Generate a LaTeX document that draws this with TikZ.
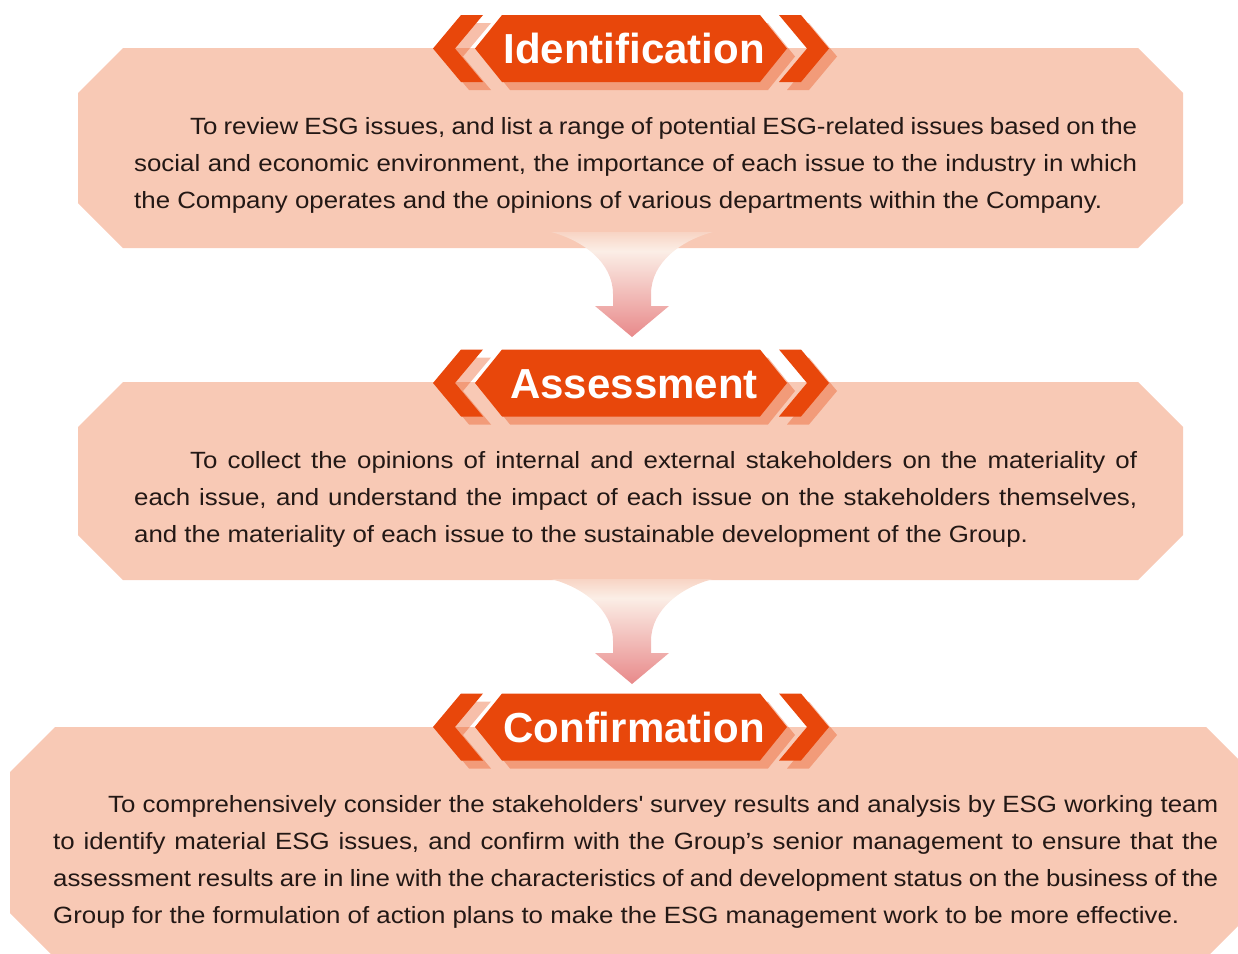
\documentclass[tikz,border=0pt]{standalone}
\usepackage{fontspec}
\setmainfont{Liberation Sans}
\newfontfamily\stagefont[FakeStretch=1.1]{Liberation Sans}
\usetikzlibrary{positioning}
\definecolor{esgorange}{HTML}{E8470B}
\definecolor{esgpanel}{HTML}{F8C9B5}
\definecolor{esgink}{HTML}{231815}
\definecolor{funneltop}{HTML}{FBEEE6}
\definecolor{funnelrim}{HTML}{F8D4C4}
\definecolor{funnelbot}{HTML}{E8898A}

% pale at the neck, pink towards the tip
\pgfdeclareverticalshading{funnelfade}{100bp}{color(0bp)=(funnelbot); color(25bp)=(funnelbot);
    color(66bp)=(funneltop); color(75bp)=(funnelrim); color(100bp)=(funnelrim)}

% tag in the middle plus the two chevrons either side
\newcommand{\tagoutline}{
    (-156,0) -- (-129,-33.5) -- (129,-33.5) -- (156,0) -- (129,33.5) -- (-129,33.5) -- cycle
    (-198,0) -- (-170,-33.5) -- (-148,-33.5) -- (-176,0) -- (-148,33.5) -- (-170,33.5) -- cycle
    (198,0) -- (170,-33.5) -- (148,-33.5) -- (176,0) -- (148,33.5) -- (170,33.5) -- cycle}

\begin{document}
\begin{tikzpicture}[
    x=1pt, y=-1pt,
    panel/.style={fill=esgpanel},
    stagetext/.style={inner sep=0pt, anchor=north west, align=justify,
        text=esgink, font=\stagefont\fontsize{23.5}{37.2}\selectfont},
    badgetext/.style={inner sep=0pt, anchor=base, text=white,
        font=\bfseries\fontsize{42}{42}\selectfont},
    badge/.pic={
        \fill[esgorange, opacity=0.35, shift={(8,8)}] \tagoutline;
        \fill[esgorange] \tagoutline;
        \node[badgetext] (-title) at (3,15) {#1};
    },
    funnel/.pic={
        \shade[shading=funnelfade]
            (-81,-105) .. controls (-50,-97) and (-19,-75) .. (-19,-43)
            -- (-19,-31) -- (-37,-31) -- (0,0) -- (37,-31) -- (19,-31) -- (19,-43)
            .. controls (19,-75) and (50,-97) .. (81,-105) -- cycle;
    },
]
    \useasboundingbox (0,0) rectangle (1238,953);
    \clip (0,0) rectangle (1238,953);

    % the three stage panels
    \fill[panel] (123,48) -- (1138,48) -- (1183,93) -- (1183,203)
        -- (1138,248) -- (123,248) -- (78,203) -- (78,93) -- cycle;
    \fill[panel] (123,382) -- (1138,382) -- (1183,427) -- (1183,535)
        -- (1138,580) -- (123,580) -- (78,535) -- (78,427) -- cycle;
    \fill[panel] (55,727) -- (1206,727) -- (1251,772) -- (1251,913)
        -- (1206,958) -- (55,958) -- (10,913) -- (10,772) -- cycle;

    \pic (down1) at (632,337) {funnel};
    \pic (down2) at (632,684) {funnel};

    \pic (ident)  at (631,48.5) {badge=Identification};
    \pic (assess) at (631,383)  {badge=Assessment};
    \pic (confirm) at (631,727) {badge=Confirmation};

    \node[stagetext, text width=1003pt] (ident-text) at (134,114)
        {\rule{0pt}{20pt}\hspace*{56pt}To review ESG issues, and list a range of potential ESG-related issues based on the\linebreak
         social and economic environment, the importance of each issue to the industry in which\linebreak
         the Company operates and the opinions of various departments within the Company.};
    \node[stagetext, text width=1003pt] (assess-text) at (134,448)
        {\rule{0pt}{20pt}\hspace*{56pt}To collect the opinions of internal and external stakeholders on the materiality of\linebreak
         each issue, and understand the impact of each issue on the stakeholders themselves,\linebreak
         and the materiality of each issue to the sustainable development of the Group.};
    \node[stagetext, text width=1165pt] (confirm-text) at (53,792)
        {\rule{0pt}{20pt}\hspace*{55pt}To comprehensively consider the stakeholders\textquotesingle{} survey results and analysis by ESG working team\linebreak
         to identify material ESG issues, and confirm with the Group’s senior management to ensure that the\linebreak
         assessment results are in line with the characteristics of and development status on the business of the\linebreak
         Group for the formulation of action plans to make the ESG management work to be more effective.};
\end{tikzpicture}
\end{document}
